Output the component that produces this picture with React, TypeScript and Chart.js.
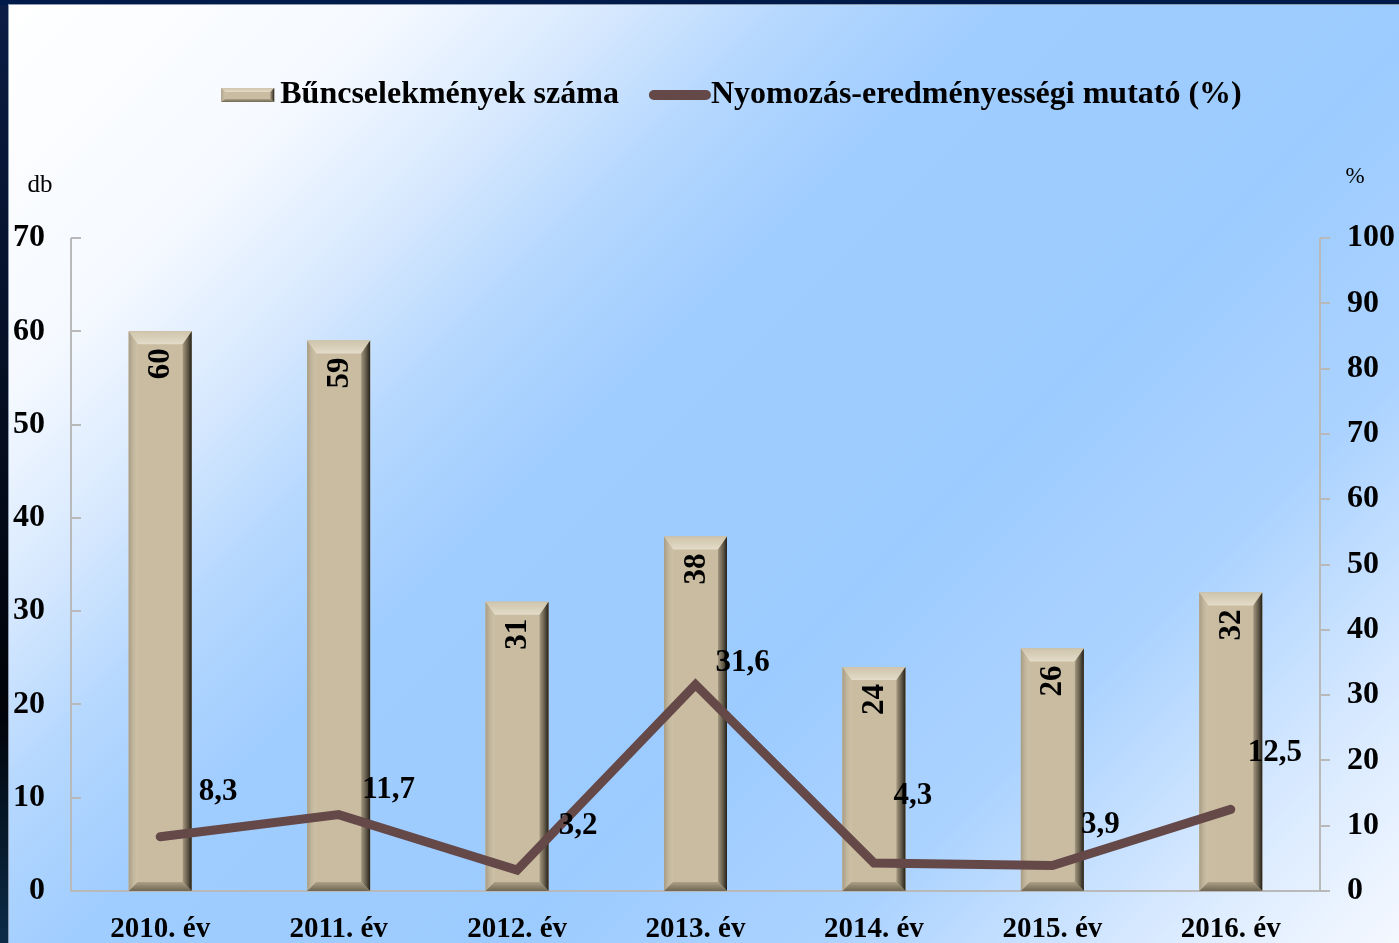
import React, { useEffect, useRef } from "react";
import { Chart, registerables } from "chart.js";

Chart.register(...registerables);

const categories = ["2010. év", "2011. év", "2012. év", "2013. év", "2014. év", "2015. év", "2016. év"];
const crimeCounts = [60, 59, 31, 38, 24, 26, 32];
const clearanceRates = [8.3, 11.7, 3.2, 31.6, 4.3, 3.9, 12.5];
const leftTicks = [0, 10, 20, 30, 40, 50, 60, 70];
const rightTicks = [0, 10, 20, 30, 40, 50, 60, 70, 80, 90, 100];
const barSeriesName = "Bűncselekmények száma";
const lineSeriesName = "Nyomozás-eredményességi mutató (%)";
const leftUnit = "db";
const rightUnit = "%";
// label offsets (px) of the line value labels from their points
const lineLabelOffsets = [[58, -45], [50, -25], [61, -44], [47, -22], [39, -67], [48, -41], [44, -56]];

const SERIF = "'Liberation Serif', 'Times New Roman', serif";
const BAR_COLOR = "#C9BCA1";
const LINE_COLOR = "#654848";
const AXIS_COLOR = "#b9b9b9";

function drawBevelBar(ctx: CanvasRenderingContext2D, l: number, t: number, r: number, b: number, small = false) {
  const sv = small ? 4 : Math.min(9, (r - l) / 4);
  const tv = small ? 4 : Math.min(13, (b - t) / 3);
  const bv = small ? 3 : Math.min(9, (b - t) / 3);
  ctx.save();
  ctx.fillStyle = BAR_COLOR;
  ctx.fillRect(l, t, r - l, b - t);
  // top
  let g = ctx.createLinearGradient(0, t, 0, t + tv);
  g.addColorStop(0, "#cfc4ab");
  g.addColorStop(1, "#e4dcc9");
  ctx.fillStyle = g;
  ctx.beginPath();
  ctx.moveTo(l, t); ctx.lineTo(r, t); ctx.lineTo(r - sv, t + tv); ctx.lineTo(l + sv, t + tv); ctx.closePath();
  ctx.fill();
  // left
  g = ctx.createLinearGradient(l, 0, l + sv, 0);
  g.addColorStop(0, "#a89d86");
  g.addColorStop(0.5, "#c2b69c");
  g.addColorStop(1, "#cdc1a7");
  ctx.fillStyle = g;
  ctx.beginPath();
  ctx.moveTo(l, t); ctx.lineTo(l + sv, t + tv); ctx.lineTo(l + sv, b - bv); ctx.lineTo(l, b); ctx.closePath();
  ctx.fill();
  // right
  g = ctx.createLinearGradient(r - sv, 0, r, 0);
  g.addColorStop(0, "#a39880");
  g.addColorStop(0.6, "#5e5646");
  g.addColorStop(1, "#22201a");
  ctx.fillStyle = g;
  ctx.beginPath();
  ctx.moveTo(r, t); ctx.lineTo(r, b); ctx.lineTo(r - sv, b - bv); ctx.lineTo(r - sv, t + tv); ctx.closePath();
  ctx.fill();
  // bottom
  g = ctx.createLinearGradient(0, b - bv, 0, b);
  g.addColorStop(0, "#aca187");
  g.addColorStop(1, "#6f6654");
  ctx.fillStyle = g;
  ctx.beginPath();
  ctx.moveTo(l, b); ctx.lineTo(r, b); ctx.lineTo(r - sv, b - bv); ctx.lineTo(l + sv, b - bv); ctx.closePath();
  ctx.fill();
  ctx.restore();
}

const decorPlugin = {
  id: "decor",
  beforeDraw(chart: any) {
    const { ctx, width, height } = chart;
    ctx.save();
    const frame = ctx.createLinearGradient(0, 0, 0, height);
    frame.addColorStop(0, "#0a1d45");
    frame.addColorStop(0.75, "#010308");
    frame.addColorStop(1, "#0c2b48");
    ctx.fillStyle = frame;
    ctx.fillRect(0, 0, width, height);
    ctx.fillStyle = "#001a4a";
    ctx.fillRect(0, 0, width, 5);
    const L = (width + height) / 2;
    const g = ctx.createLinearGradient(0, 0, L, L);
    g.addColorStop(0, "#ffffff");
    g.addColorStop(0.17, "#f5f9ff");
    g.addColorStop(0.26, "#d8e9fe");
    g.addColorStop(0.34, "#b6d8fe");
    g.addColorStop(0.43, "#a0cdff");
    g.addColorStop(0.62, "#9ccbff");
    g.addColorStop(0.76, "#acd3ff");
    g.addColorStop(0.9, "#dbebff");
    g.addColorStop(1, "#f4f8ff");
    ctx.fillStyle = g;
    ctx.fillRect(9, 5, width - 9, height - 5);
    ctx.fillStyle = "#8c9bb0";
    ctx.fillRect(8, 4, 1, height - 4);
    ctx.fillRect(8, 4, width - 8, 1);
    ctx.restore();
  },
  beforeDatasetsDraw(chart: any) {
    const { ctx, chartArea, scales } = chart;
    const { left, right, top, bottom } = chartArea;
    ctx.save();
    ctx.strokeStyle = AXIS_COLOR;
    ctx.lineWidth = 2;
    ctx.beginPath();
    ctx.moveTo(left, top); ctx.lineTo(left, bottom); ctx.lineTo(right, bottom); ctx.lineTo(right, top);
    for (const v of leftTicks) {
      const y = Math.round(scales.y.getPixelForValue(v));
      ctx.moveTo(left, y); ctx.lineTo(left + 10, y);
    }
    for (const v of rightTicks) {
      const y = Math.round(scales.y1.getPixelForValue(v));
      ctx.moveTo(right, y); ctx.lineTo(right + 10, y);
    }
    ctx.stroke();
    ctx.restore();
  },
  afterDatasetDraw(chart: any, args: any) {
    const meta = args.meta;
    if (meta.type !== "bar") return;
    const { ctx } = chart;
    meta.data.forEach((el: any, i: number) => {
      const l = el.x - el.width / 2;
      const r = el.x + el.width / 2;
      drawBevelBar(ctx, l, el.y, r, el.base);
      ctx.save();
      ctx.translate(el.x + 1, el.y + 17);
      ctx.rotate(-Math.PI / 2);
      ctx.font = `bold 31px ${SERIF}`;
      ctx.fillStyle = "#000";
      ctx.textAlign = "right";
      ctx.textBaseline = "middle";
      ctx.fillText(String(crimeCounts[i]), 0, 0);
      ctx.restore();
    });
  },
  afterDatasetsDraw(chart: any) {
    const { ctx } = chart;
    const meta = chart.getDatasetMeta(1);
    ctx.save();
    ctx.font = `bold 31px ${SERIF}`;
    ctx.fillStyle = "#000";
    ctx.textAlign = "center";
    ctx.textBaseline = "middle";
    meta.data.forEach((pt: any, i: number) => {
      const [dx, dy] = lineLabelOffsets[i];
      ctx.fillText(String(clearanceRates[i]).replace(".", ","), pt.x + dx, pt.y + dy);
    });
    ctx.restore();
  },
  afterDraw(chart: any) {
    const { ctx, chartArea } = chart;
    ctx.save();
    // unit labels
    ctx.fillStyle = "#000";
    ctx.textBaseline = "middle";
    ctx.font = `25px ${SERIF}`;
    ctx.textAlign = "center";
    ctx.fillText(leftUnit, 40, 185);
    ctx.font = `23px ${SERIF}`;
    ctx.fillText(rightUnit, 1355, 177);

    // legend
    ctx.font = `bold 32px ${SERIF}`;
    const w1 = ctx.measureText(barSeriesName).width;
    const w2 = ctx.measureText(lineSeriesName).width;
    const sw1 = 53, gap1 = 6, gap2 = 30, sw2 = 62;
    const total = sw1 + gap1 + w1 + gap2 + sw2 + w2;
    const cx = (chartArea.left + chartArea.right) / 2 + 36;
    let x = cx - total / 2;
    const y = 95;
    drawBevelBar(ctx, x, y - 7, x + sw1, y + 7, true);
    x += sw1 + gap1;
    ctx.textAlign = "left";
    ctx.fillStyle = "#000";
    ctx.fillText(barSeriesName, x, y);
    x += w1 + gap2;
    ctx.strokeStyle = LINE_COLOR;
    ctx.lineWidth = 10;
    ctx.lineCap = "round";
    ctx.beginPath();
    ctx.moveTo(x + 5, y); ctx.lineTo(x + sw2 - 5, y);
    ctx.stroke();
    x += sw2;
    ctx.fillText(lineSeriesName, x, y);
    ctx.restore();
  },
};

export default function App() {
  const canvasRef = useRef<HTMLCanvasElement | null>(null);

  useEffect(() => {
    if (!canvasRef.current) return;
    const chart = new Chart(canvasRef.current, {
      data: {
        labels: categories,
        datasets: [
          {
            type: "bar",
            label: barSeriesName,
            data: crimeCounts,
            backgroundColor: BAR_COLOR,
            borderWidth: 0,
            yAxisID: "y",
            order: 1,
            barPercentage: 0.353,
            categoryPercentage: 1,
          },
          {
            type: "line",
            label: lineSeriesName,
            data: clearanceRates,
            borderColor: LINE_COLOR,
            backgroundColor: LINE_COLOR,
            borderWidth: 9,
            borderCapStyle: "round",
            borderJoinStyle: "miter",
            pointRadius: 0,
            pointHoverRadius: 0,
            tension: 0,
            yAxisID: "y1",
            order: 0,
          },
        ],
      },
      options: {
        animation: false,
        responsive: true,
        maintainAspectRatio: false,
        layout: { padding: { top: 238, left: 0, right: 0, bottom: 0 } },
        plugins: {
          legend: { display: false },
          tooltip: { enabled: false },
        },
        scales: {
          x: {
            type: "category",
            offset: true,
            grid: { display: false, drawTicks: false },
            border: { display: false },
            ticks: {
              color: "#000",
              padding: 21,
              maxRotation: 0,
              font: { family: SERIF, size: 29, weight: "bold" },
            },
            afterFit: (s: any) => {
              s.height = 52;
            },
          },
          y: {
            type: "linear",
            position: "left",
            min: 0,
            max: 70,
            grid: { display: false, drawTicks: false },
            border: { display: false },
            ticks: {
              stepSize: 10,
              color: "#000",
              padding: 26,
              font: { family: SERIF, size: 32, weight: "bold" },
            },
            afterFit: (s: any) => {
              s.width = 71;
            },
          },
          y1: {
            type: "linear",
            position: "right",
            min: 0,
            max: 100,
            grid: { display: false, drawTicks: false },
            border: { display: false },
            ticks: {
              stepSize: 10,
              color: "#000",
              padding: 27,
              font: { family: SERIF, size: 32, weight: "bold" },
            },
            afterFit: (s: any) => {
              s.width = 79;
            },
          },
        },
      },
      plugins: [decorPlugin],
    } as any);
    return () => chart.destroy();
  }, []);

  return (
    <div style={{ position: "fixed", left: 0, top: 0, width: 1399, height: 943 }}>
      <canvas ref={canvasRef} />
    </div>
  );
}
